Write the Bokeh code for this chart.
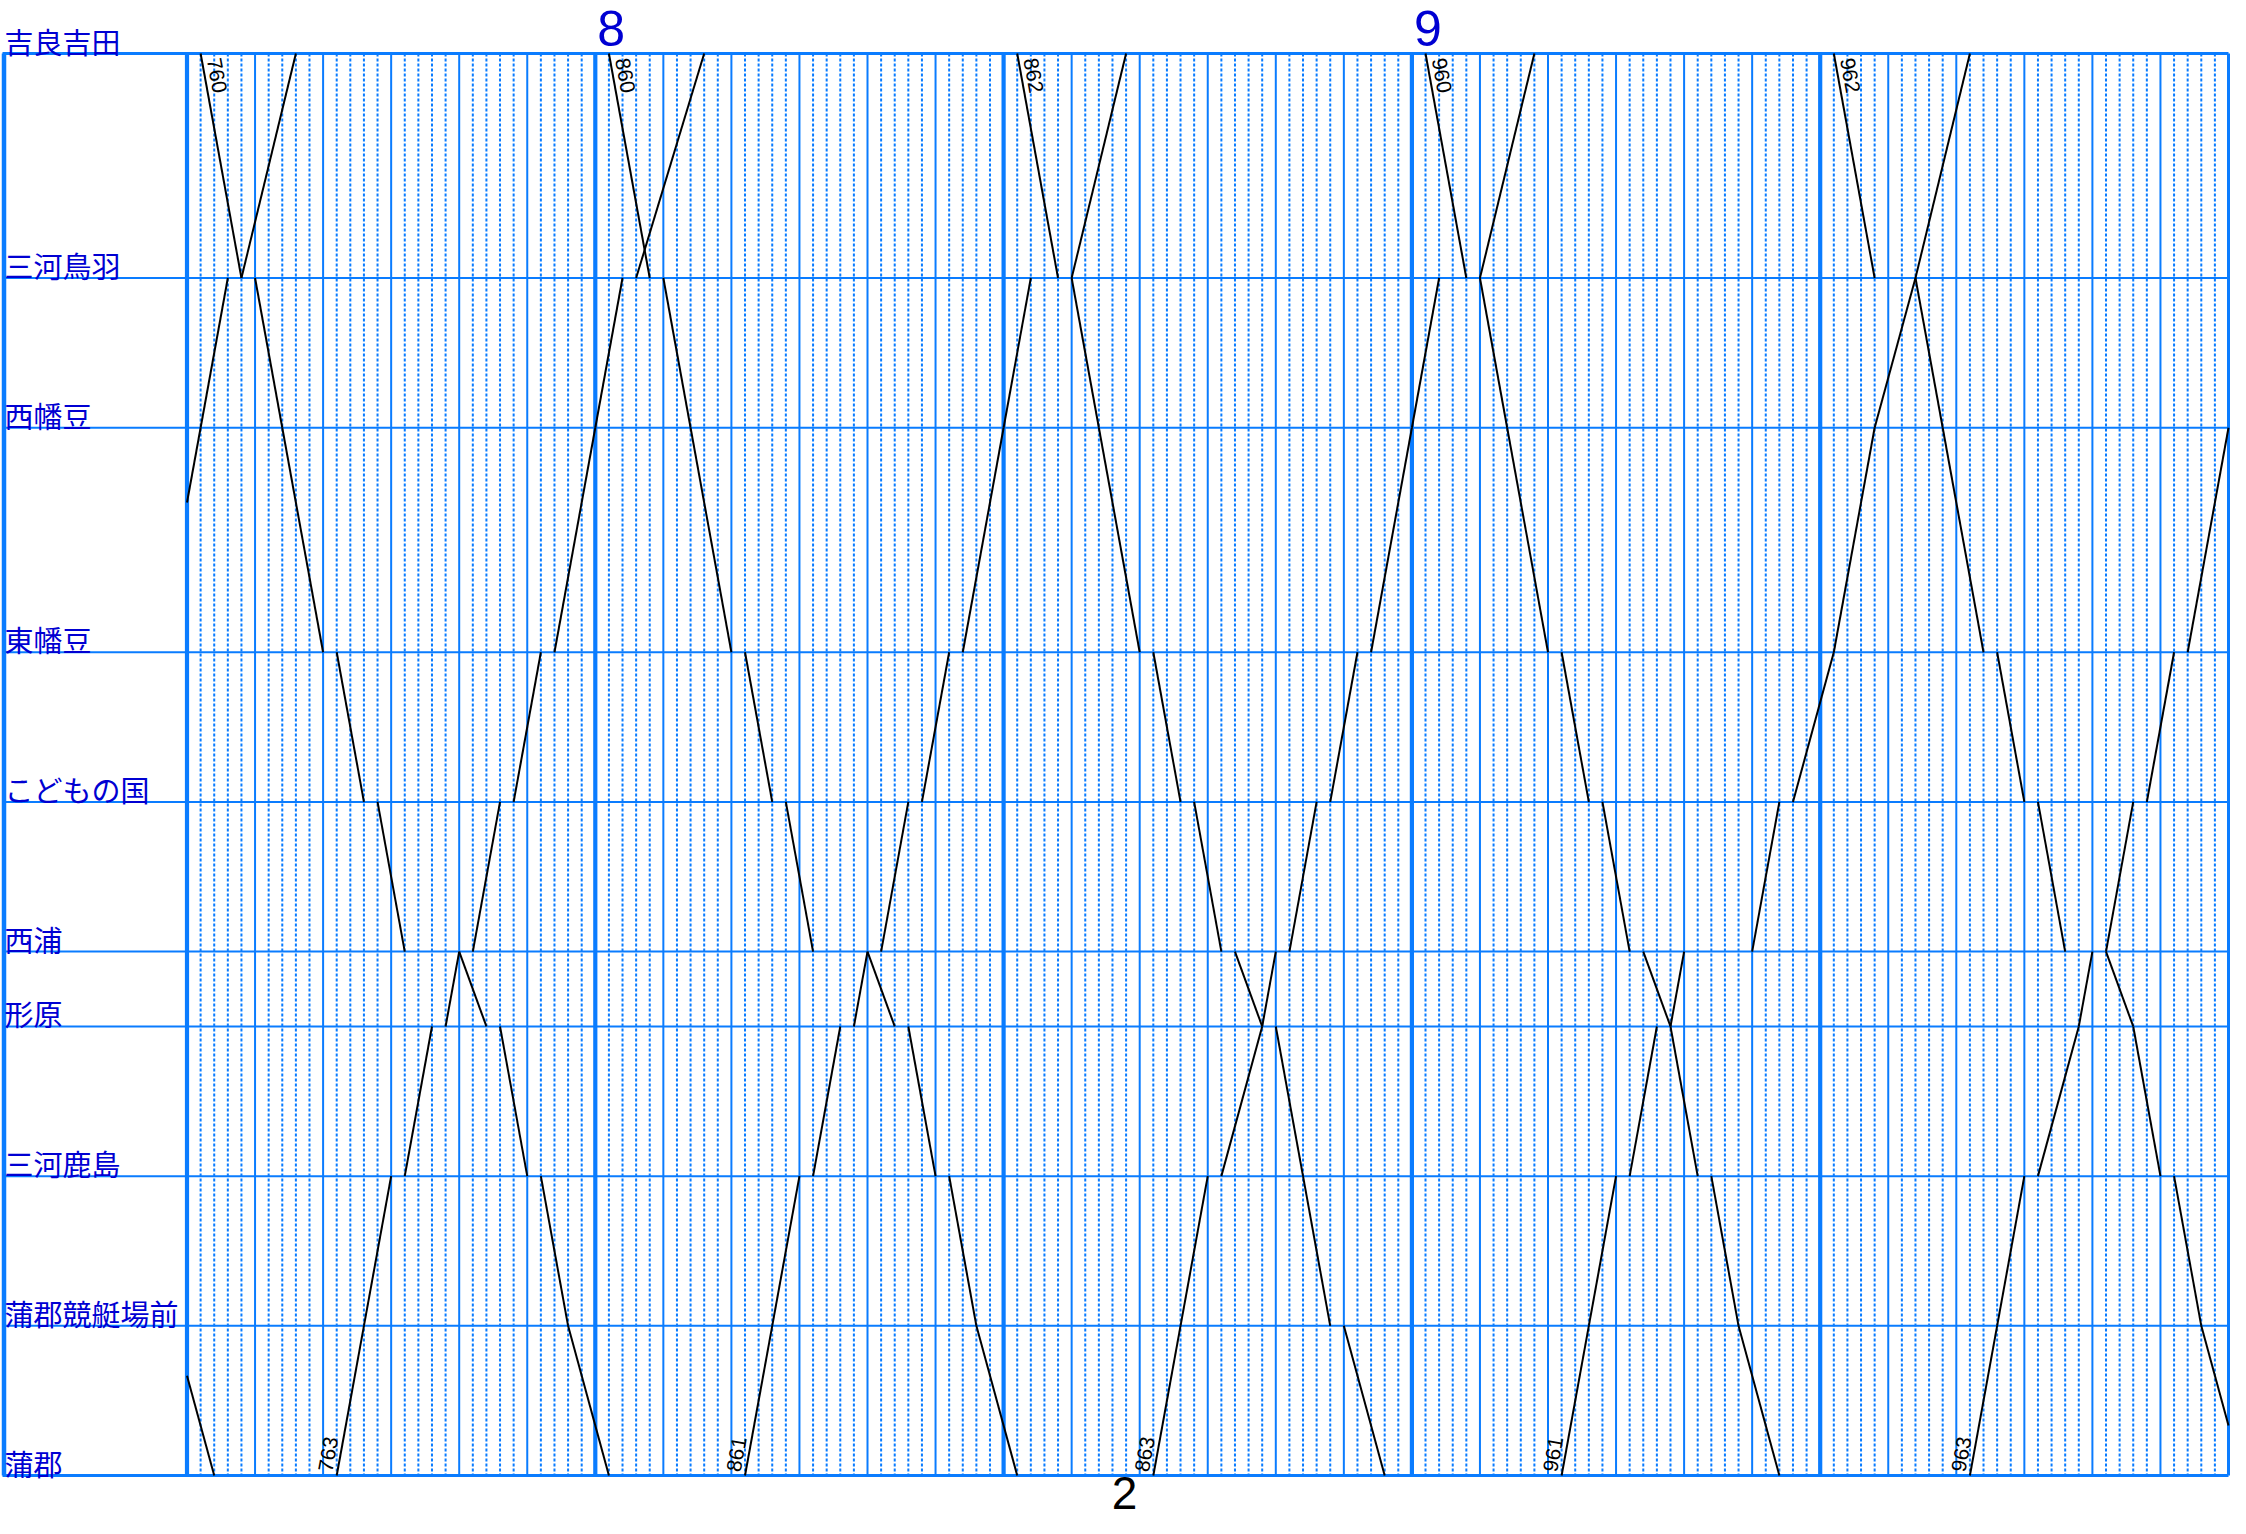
import math
from bokeh.plotting import figure
from bokeh.models import Range1d
from bokeh.core.properties import value
from bokeh.embed import file_html
from bokeh.resources import INLINE

# ---------------- data ----------------
STATIONS = ["吉良吉田", "三河鳥羽", "西幡豆", "東幡豆", "こどもの国",
            "西浦", "形原", "三河鹿島", "蒲郡競艇場前", "蒲郡"]
STATION_POS = [0, 3, 5, 8, 10, 12, 13, 15, 17, 19]

TIME_START = "7:30"
TIME_END = "10:00"
HOUR_TIMES = ["8:00", "9:00"]
HOUR_LABELS = ["8", "9"]
PAGE_NO = "2"

# per station, in order of travel: "arr-dep", or a single time (no dwell)
# down trains: 吉良吉田 -> 蒲郡
DOWN_NUMBERS = ["760", "860", "862", "960", "962"]
DOWN_760 = ["7:31", "7:34-7:35", "7:37", "7:40-7:41", "7:43-7:44", "7:46-7:50", "7:52-7:53", "7:55-7:56", "7:58", "8:01"]
DOWN_860 = ["8:01", "8:04-8:05", "8:07", "8:10-8:11", "8:13-8:14", "8:16-8:20", "8:22-8:23", "8:25-8:26", "8:28", "8:31"]
DOWN_862 = ["8:31", "8:34-8:35", "8:37", "8:40-8:41", "8:43-8:44", "8:46-8:47", "8:49-8:50", "8:52", "8:54-8:55", "8:58"]
DOWN_960 = ["9:01", "9:04-9:05", "9:07", "9:10-9:11", "9:13-9:14", "9:16-9:17", "9:19", "9:21-9:22", "9:24", "9:27"]
DOWN_962 = ["9:31", "9:34-9:37", "9:39", "9:42-9:43", "9:45-9:46", "9:48-9:51", "9:53", "9:55-9:56", "9:58", "10:01"]
DOWN_PREV = [None, None, None, None, None, None, None, None, "7:29", "7:32"]

# up trains: 蒲郡 -> 吉良吉田
UP_NUMBERS = ["763", "861", "863", "961", "963"]
UP_763 = ["7:41", "7:43", "7:45-7:46", "7:48-7:49", "7:50-7:51", "7:53-7:54", "7:56-7:57", "8:00", "8:02-8:03", "8:08"]
UP_861 = ["8:11", "8:13", "8:15-8:16", "8:18-8:19", "8:20-8:21", "8:23-8:24", "8:26-8:27", "8:30", "8:32-8:35", "8:39"]
UP_863 = ["8:41", "8:43", "8:45-8:46", "8:49", "8:50-8:51", "8:53-8:54", "8:56-8:57", "9:00", "9:02-9:05", "9:09"]
UP_961 = ["9:11", "9:13", "9:15-9:16", "9:18-9:19", "9:20-9:25", "9:27-9:28", "9:31", "9:34", "9:37", "9:41"]
UP_963 = ["9:41", "9:43", "9:45-9:46", "9:49", "9:50-9:51", "9:53-9:54", "9:56-9:57", "10:00"]
UP_PREV = [None, None, None, None, None, None, "7:28", "7:31", "7:33-7:34", "7:38"]

DOWN_TRAINS = [DOWN_760, DOWN_860, DOWN_862, DOWN_960, DOWN_962]
UP_TRAINS = [UP_763, UP_861, UP_863, UP_961, UP_963]

# ---------------- style / layout ----------------
W, H = 2230, 1518
GX0, GX1 = 186.5, 2228.0     # canvas px of TIME_START / TIME_END
GY0, GY1 = 53.0, 1475.0      # canvas px of first / last station
GRID = "#0A7CFF"
LABEL_BLUE = "#0000D2"
DIGITS = "'Liberation Sans', Arial, sans-serif"


def tmin(s):
    h, m = s.split(":")
    return int(h) * 60 + float(m)


T0, T1 = tmin(TIME_START), tmin(TIME_END)
UMAX = STATION_POS[-1]
PPM = (GX1 - GX0) / (T1 - T0)
PPU = (GY1 - GY0) / UMAX


def tx(X):
    return T0 + (X - GX0) / PPM


def uy(Y):
    return (Y - GY0) / PPU


def to_px(t, u):
    return GX0 + (t - T0) * PPM, GY0 + u * PPU


def parse(times, direction):
    idxs = list(range(len(STATIONS)))
    if direction == "up":
        idxs = idxs[::-1]
    stops = []
    for i, cell in zip(idxs, times):
        if cell is None:
            continue
        if "-" in cell:
            a, d = cell.split("-")
        else:
            a = d = cell
        stops.append((STATION_POS[i], tmin(a), tmin(d)))
    return stops


def segments(stops):
    segs = []
    for (u0, _, d0), (u1, a1, _) in zip(stops[:-1], stops[1:]):
        ta, tb, ua, ub = d0, a1, u0, u1
        if tb <= T0 or ta >= T1:
            continue
        if ta < T0:
            ua = ua + (ub - ua) * (T0 - ta) / (tb - ta)
            ta = T0
        if tb > T1:
            ub = ua + (ub - ua) * (T1 - ta) / (tb - ta)
            tb = T1
        segs.append(([ta, tb], [ua, ub]))
    return segs


p = figure(width=W, height=H,
           x_range=Range1d(tx(0), tx(W)),
           y_range=Range1d(uy(H), uy(0)),
           output_backend="svg", toolbar_location=None,
           x_axis_type=None, y_axis_type=None,
           min_border=0, outline_line_color=None)
p.min_border_left = p.min_border_right = p.min_border_top = p.min_border_bottom = 0
p.background_fill_color = "white"
p.border_fill_color = "white"

# minute (dotted) lines
mins = [m for m in range(int(T0) + 1, int(T1)) if m % 5 != 0]
p.segment(x0=mins, y0=[0] * len(mins), x1=mins, y1=[UMAX] * len(mins),
          line_color=GRID, line_width=2.0, line_dash="3 2")
# 5-minute lines
fives = [m for m in range(int(T0) + 5, int(T1), 5) if m % 30 != 0]
p.segment(x0=fives, y0=[0] * len(fives), x1=fives, y1=[UMAX] * len(fives),
          line_color=GRID, line_width=2.0)
# 30-minute lines
thirties = list(range(int(T0), int(T1), 30))
p.segment(x0=thirties, y0=[0] * len(thirties), x1=thirties, y1=[UMAX] * len(thirties),
          line_color=GRID, line_width=4.2)
# right border
p.segment(x0=[T1], y0=[0], x1=[T1], y1=[UMAX], line_color=GRID, line_width=3.0)
# left border
p.segment(x0=[tx(3.5)], y0=[0], x1=[tx(3.5)], y1=[UMAX], line_color=GRID, line_width=4.5)
# station lines
inner = STATION_POS[1:-1]
p.segment(x0=[tx(2)] * len(inner), y0=inner, x1=[T1] * len(inner), y1=inner,
          line_color=GRID, line_width=2.0)
p.segment(x0=[tx(2)] * 2, y0=[0, UMAX], x1=[T1] * 2, y1=[0, UMAX],
          line_color=GRID, line_width=2.8)

# trains
xs, ys = [], []
for tr in DOWN_TRAINS + [DOWN_PREV]:
    for a, b in segments(parse(tr, "down")):
        xs.append(a); ys.append(b)
for tr in UP_TRAINS + [UP_PREV]:
    for a, b in segments(parse(tr, "up")):
        xs.append(a); ys.append(b)
p.multi_line(xs, ys, line_color="black", line_width=2.0)

# train numbers, written along the first leg of each train
lx, ly, la, lt = [], [], [], []


def add_label(num, stops, s, g):
    (u0, _, d0), (u1, a1, _) = stops[0], stops[1]
    x0, y0 = to_px(d0, u0)
    x1, y1 = to_px(a1, u1)
    L = math.hypot(x1 - x0, y1 - y0)
    dx, dy = (x1 - x0) / L, (y1 - y0) / L
    nx, ny = dy, -dx
    if ny > 0:
        nx, ny = -nx, -ny
    X = x0 + s * dx + g * nx
    Y = y0 + s * dy + g * ny
    lx.append(tx(X)); ly.append(uy(Y)); la.append(-math.atan2(dy, dx)); lt.append(num)


for num, tr in zip(DOWN_NUMBERS, DOWN_TRAINS):
    add_label(num, parse(tr, "down"), 7, 12)
for num, tr in zip(UP_NUMBERS, UP_TRAINS):
    add_label(num, parse(tr, "up"), 2, 12)
p.text(x=lx, y=ly, text=lt, angle=la, text_font=value(DIGITS), text_font_size="21px",
       text_color="black", text_align="left", text_baseline="middle")

# station names (glyph centre ~13 px above the station line)
p.text(x=[tx(4)] * len(STATIONS), y=[u - 13.0 / PPU for u in STATION_POS], text=STATIONS,
       text_font=value("Noto Sans CJK JP"), text_font_size="29px", text_color=LABEL_BLUE,
       text_align="left", text_baseline="middle")

# hour numerals
p.text(x=[tmin(h) + 2.0 / PPM for h in HOUR_TIMES], y=[uy(28)] * len(HOUR_TIMES), text=HOUR_LABELS,
       text_font=value(DIGITS), text_font_size="50px", text_color=LABEL_BLUE,
       text_align="left", text_baseline="middle")

# page number
p.text(x=[tx(1124)], y=[uy(1492)], text=[PAGE_NO], text_font=value(DIGITS),
       text_font_size="46px", text_color="black", text_align="center", text_baseline="middle")

open("out.html", "w").write(file_html(p, INLINE))
